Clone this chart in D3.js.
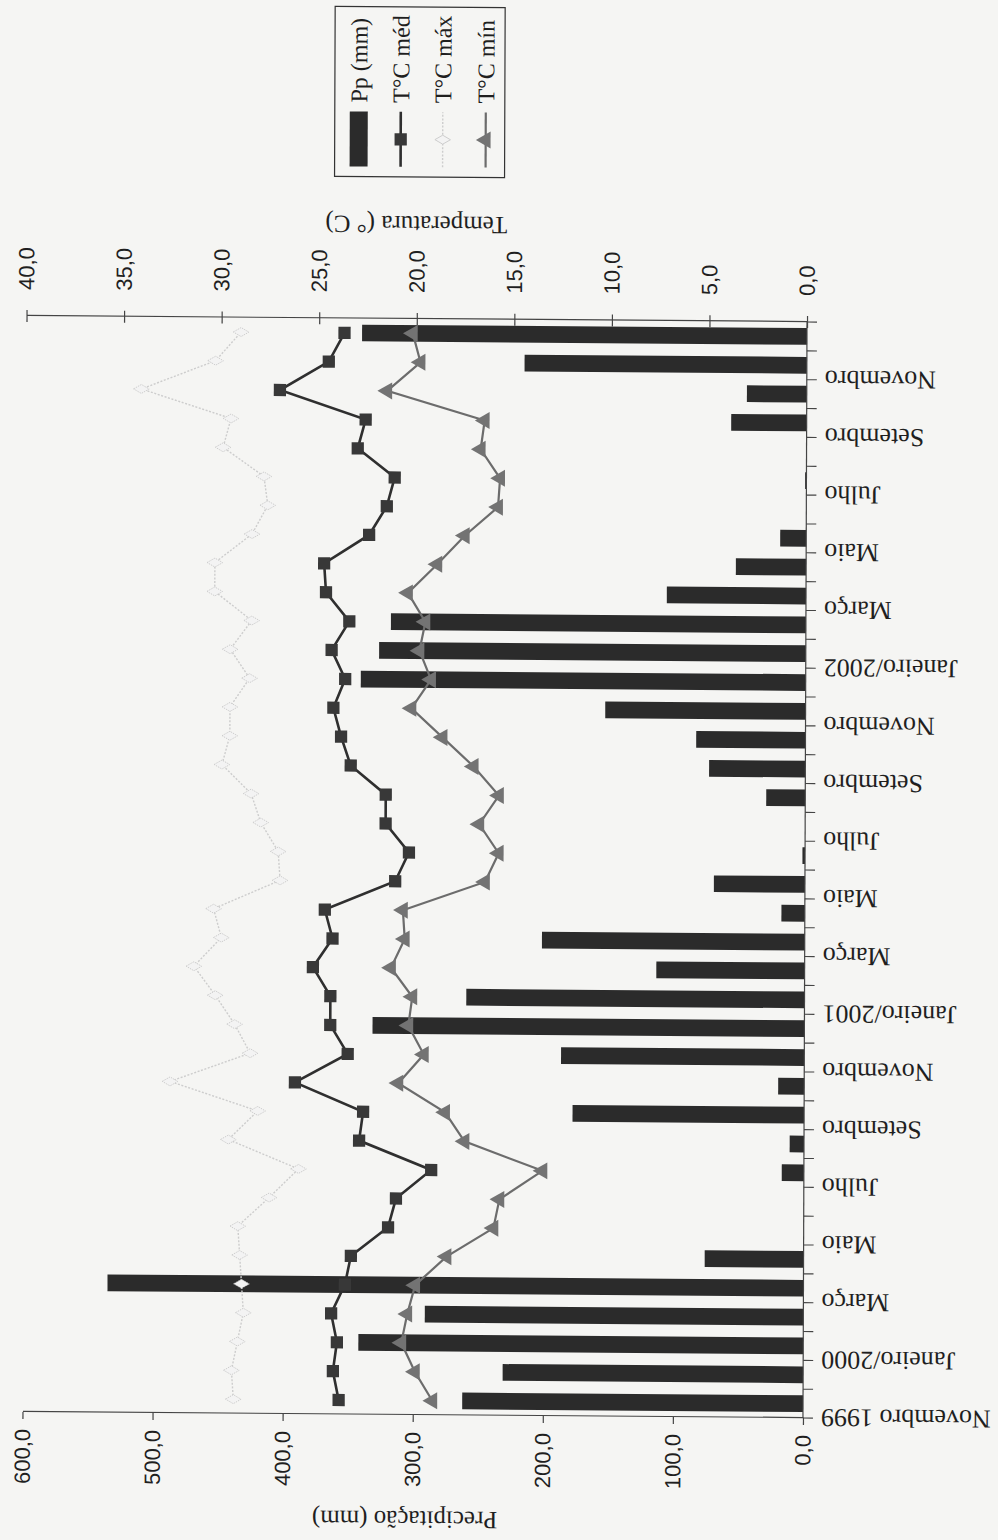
<!DOCTYPE html>
<html>
<head>
<meta charset="utf-8">
<script src="https://cdn.jsdelivr.net/npm/d3@7"></script>
<style>
  html, body { margin: 0; padding: 0; background: #f5f5f3; }
  svg { display: block; }
</style>
</head>
<body>
<svg id="chart" width="998" height="1540"></svg>
<script>
// Monthly series, November 1999 – December 2002
const months = ["Nov 1999","Dez 1999","Jan 2000","Fev 2000","Mar 2000","Abr 2000","Mai 2000","Jun 2000",
  "Jul 2000","Ago 2000","Set 2000","Out 2000","Nov 2000","Dez 2000","Jan 2001","Fev 2001","Mar 2001",
  "Abr 2001","Mai 2001","Jun 2001","Jul 2001","Ago 2001","Set 2001","Out 2001","Nov 2001","Dez 2001",
  "Jan 2002","Fev 2002","Mar 2002","Abr 2002","Mai 2002","Jun 2002","Jul 2002","Ago 2002","Set 2002",
  "Out 2002","Nov 2002","Dez 2002"];

// Category labels, shown on every second month
const monthLabels = ["Novembro 1999","Janeiro/2000","Março","Maio","Julho","Setembro","Novembro",
  "Janeiro/2001","Março","Maio","Julho","Setembro","Novembro","Janeiro/2002","Março","Maio",
  "Julho","Setembro","Novembro"];

// Precipitação (mm)
const precipitation = [262,231,342,291,535,76,0,0,17,11,178,20,187,332,260,114,202,18,70,2,0,30,
  74,84,154,342,328,319,107,54,20,0,1,0,58,46,217,342];

// Temperaturas (°C)
const tempMean = [23.8,24.1,23.9,24.2,23.5,23.2,21.3,20.9,19.1,22.8,22.6,26.1,23.4,24.3,24.3,25.2,
  24.2,24.6,21.0,20.3,21.5,21.5,23.3,23.8,24.2,23.6,24.3,23.4,24.6,24.7,22.4,21.5,21.1,23.0,22.6,
  27.0,24.5,23.7];
const tempMax = [29.2,29.3,29.0,28.7,28.8,28.9,29.0,27.4,25.9,29.5,28.0,32.5,28.4,29.2,30.2,31.3,
  29.9,30.3,26.9,27.0,27.9,28.4,29.9,29.5,29.5,28.5,29.5,28.4,30.3,30.3,28.4,27.6,27.8,29.9,29.5,
  34.1,30.3,29.0];
const tempMin = [19.0,19.9,20.6,20.3,19.9,18.3,15.9,15.6,13.4,17.4,18.4,20.8,19.5,20.3,20.1,21.2,
  20.5,20.6,16.4,15.7,16.7,15.7,17.0,18.6,20.2,19.2,19.8,19.5,20.4,18.9,17.5,15.8,15.7,16.7,16.5,
  21.5,19.8,20.2];

// Axis ticks
const precipTicks = [0,100,200,300,400,500,600];
const tempTicks = [0,5,10,15,20,25,30,35,40];

const legendItems = ["Pp (mm)","T°C méd","T°C máx","T°C mín"];

const W = 998, H = 1540;
const SERIF = "'Liberation Serif','Times New Roman',serif";
const SANS = "'Liberation Sans',Arial,sans-serif";
const INK = "#1f1f1f";
const MAX_LINE = "#cdcdcd", MAX_MARK = "#c9c9c9";

const svg = d3.select("#chart");
svg.append("rect").attr("width", W).attr("height", H).attr("fill", "#f5f5f3");

// Slight skew of the printed page, then the chart turned a quarter turn
const page = svg.append("g").attr("transform", "matrix(1,0.0078,-0.0037,1,3.2,-3.24)");
const g = page.append("g").attr("transform", `translate(0,${H}) rotate(-90)`);

// Chart frame in landscape coordinates
const x0 = 125, x1 = 1221, yBase = 805, yTop = 24.5;

const x = d3.scaleBand().domain(d3.range(months.length)).range([x0, x1])
  .paddingInner(0.42).paddingOuter(0.21);
const step = x.step();
const xc = i => x(i) + x.bandwidth() / 2;

const yP = d3.scaleLinear().domain([0, 600]).range([yBase, yTop]);
const yT = d3.scaleLinear().domain([0, 40]).range([yBase, yTop]);

const fmt = d => d3.format(".1f")(d).replace(".", ",");

// Bars: precipitation
g.append("g").selectAll("rect").data(precipitation).join("rect")
  .attr("x", (d, i) => x(i))
  .attr("y", d => yP(d))
  .attr("width", x.bandwidth())
  .attr("height", d => yP(0) - yP(d))
  .attr("fill", "#2b2b2b");

// Left axis: precipitation
const axP = g.append("g").attr("transform", `translate(${x0},0)`)
  .call(d3.axisLeft(yP).tickValues(precipTicks).tickSizeInner(7).tickSizeOuter(0)
    .tickPadding(10).tickFormat(fmt));
axP.selectAll("path,line").attr("stroke", "#444").attr("stroke-width", 1.2);
axP.selectAll("text").attr("font-family", SANS).attr("font-size", 22).attr("fill", INK);

// Right axis: temperature
const axT = g.append("g").attr("transform", `translate(${x1},0)`)
  .call(d3.axisRight(yT).tickValues(tempTicks).tickSizeInner(6).tickSizeOuter(0)
    .tickPadding(20).tickFormat(fmt));
axT.selectAll("path,line").attr("stroke", "#444").attr("stroke-width", 1.2);
axT.selectAll(".tick line").attr("x1", -6);
axT.selectAll("text").attr("font-family", SANS).attr("font-size", 22).attr("fill", INK);

// Category axis
const axC = g.append("g");
axC.append("line").attr("x1", x0).attr("x2", x1).attr("y1", yBase).attr("y2", yBase)
  .attr("stroke", "#444").attr("stroke-width", 1.2);
axC.selectAll("line.tk").data(d3.range(months.length + 1)).join("line").attr("class", "tk")
  .attr("x1", k => x0 + k * step).attr("x2", k => x0 + k * step)
  .attr("y1", yBase).attr("y2", yBase + 10)
  .attr("stroke", "#444").attr("stroke-width", 1.1);
axC.selectAll("text").data(monthLabels).join("text")
  .attr("transform", (d, j) => `translate(${x0 + 2 * j * step},${yBase + 18}) rotate(-90)`)
  .attr("text-anchor", "end").attr("dy", "0.35em")
  .attr("font-family", SERIF).attr("font-size", 26).attr("fill", INK)
  .text(d => d);

// Axis titles
g.append("text").attr("transform", `translate(20,407) rotate(-90)`)
  .attr("text-anchor", "middle").attr("dy", "0.35em")
  .attr("font-family", SERIF).attr("font-size", 25).attr("fill", INK)
  .text("Precipitação (mm)");
g.append("text").attr("transform", `translate(1315,414) rotate(-90)`)
  .attr("text-anchor", "middle").attr("dy", "0.35em")
  .attr("font-family", SERIF).attr("font-size", 25).attr("fill", INK)
  .text("Temperatura (° C)");

// Temperature lines
const line = d3.line().x((d, i) => xc(i)).y(d => yT(d));
const diamond = d3.symbol().type(d3.symbolDiamond).size(70);
const square = d3.symbol().type(d3.symbolSquare).size(150);
const triangle = d3.symbol().type(d3.symbolTriangle).size(125);

// Máxima
g.append("path").datum(tempMax).attr("d", line).attr("fill", "none")
  .attr("stroke", MAX_LINE).attr("stroke-width", 1.4).attr("stroke-dasharray", "2 1.6");
g.append("g").selectAll("path").data(tempMax).join("path")
  .attr("d", diamond).attr("transform", (d, i) => `translate(${xc(i)},${yT(d)})`)
  .attr("fill", "#f3f3f3").attr("stroke", MAX_MARK).attr("stroke-width", 0.9)
  .attr("stroke-dasharray", "1.5 1");

// Média
g.append("path").datum(tempMean).attr("d", line).attr("fill", "none")
  .attr("stroke", "#2f2f2f").attr("stroke-width", 2.6);
g.append("g").selectAll("path").data(tempMean).join("path")
  .attr("d", square).attr("transform", (d, i) => `translate(${xc(i)},${yT(d)})`)
  .attr("fill", "#383838");

// Mínima
g.append("path").datum(tempMin).attr("d", line).attr("fill", "none")
  .attr("stroke", "#6c6c6c").attr("stroke-width", 2.2);
g.append("g").selectAll("path").data(tempMin).join("path")
  .attr("d", triangle).attr("transform", (d, i) => `translate(${xc(i)},${yT(d)})`)
  .attr("fill", "#737373");

// Legend
const lg = g.append("g");
lg.append("rect").attr("x", 1363).attr("y", 332).attr("width", 170).attr("height", 170)
  .attr("fill", "none").attr("stroke", "#333").attr("stroke-width", 1.2);
const rowY = [356, 398, 440, 483];
lg.append("rect").attr("x", 1373).attr("y", rowY[0] - 9).attr("width", 55).attr("height", 18)
  .attr("fill", "#2b2b2b");
const legendStyles = [
  null,
  { stroke: "#2f2f2f", width: 2.6, dash: null, sym: square, fill: "#383838", sStroke: "none" },
  { stroke: MAX_LINE, width: 1.4, dash: "2 1.6", sym: diamond, fill: "#f3f3f3", sStroke: MAX_MARK },
  { stroke: "#6c6c6c", width: 2.2, dash: null, sym: triangle, fill: "#737373", sStroke: "none" }
];
legendStyles.forEach((s, k) => {
  if (!s) return;
  lg.append("line").attr("x1", 1373).attr("x2", 1428).attr("y1", rowY[k]).attr("y2", rowY[k])
    .attr("stroke", s.stroke).attr("stroke-width", s.width).attr("stroke-dasharray", s.dash);
  lg.append("path").attr("d", s.sym).attr("transform", `translate(1400.5,${rowY[k]})`)
    .attr("fill", s.fill).attr("stroke", s.sStroke).attr("stroke-width", 0.9);
});
lg.selectAll("text").data(legendItems).join("text")
  .attr("x", 1437).attr("y", (d, k) => rowY[k]).attr("dy", "0.35em")
  .attr("font-family", SERIF).attr("font-size", 24).attr("fill", INK)
  .text(d => d);
</script>
</body>
</html>
